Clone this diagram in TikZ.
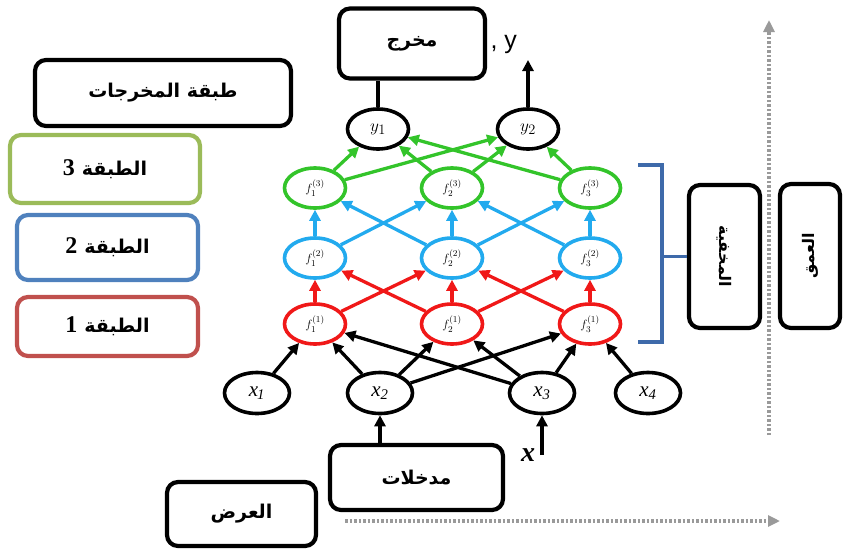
\documentclass[tikz,border=0pt]{standalone}
\usepackage{fontspec}
\setmainfont{Liberation Serif}
\newfontfamily\arabicfont[Script=Arabic]{DejaVu Sans}
\newfontfamily\latsans{Liberation Sans}
\TeXXeTstate=1
\usetikzlibrary{arrows.meta,shapes.geometric}
\definecolor{nred}{HTML}{F01818}
\definecolor{nblue}{HTML}{22AAEE}
\definecolor{ngreen}{HTML}{33C42A}
\definecolor{boxgreen}{HTML}{9BBB59}
\definecolor{boxblue}{HTML}{4F81BD}
\definecolor{boxred}{HTML}{C0504D}
\definecolor{brk}{HTML}{3E6AAA}
\definecolor{dotgray}{HTML}{9A9A9A}
\newcommand{\ar}[1]{{\arabicfont\bfseries\beginR #1\endR}}
\newcommand{\arsz}{\fontsize{19}{22}\selectfont}
\newcommand{\numsz}{\fontsize{24}{26}\selectfont\bfseries}
\begin{document}
\begin{tikzpicture}[x=1pt,y=-1pt,
  neuron/.style={ellipse, draw, line width=3.6pt, minimum width=61pt, minimum height=40pt, inner sep=0pt, fill=white},
  xneuron/.style={neuron, minimum width=65pt, minimum height=41pt},
  rbox/.style={draw, rounded corners=11pt, line width=4.2pt, inner sep=0pt, align=center, fill=white},
  conn/.style={line width=3.3pt, -{Triangle[length=11pt,width=11pt]}},
  dotaxis/.style={dotgray, line width=4pt, dash pattern=on 2.5pt off 2pt, -{Triangle[length=12pt,width=11pt]}}
]
\useasboundingbox (0,0) rectangle (843,549);

% boxes
\node[rbox, minimum width=146pt, minimum height=70pt] (out) at (412,43.5) {\arsz\ar{مخرج}};
\node[rbox, minimum width=256pt, minimum height=66pt] (outlayer) at (163,93) {\arsz\ar{طبقة المخرجات}};
\node[rbox, draw=boxgreen, minimum width=190pt, minimum height=68pt] (L3) at (105,169) {{\numsz 3}\hspace{7pt}{\arsz\ar{الطبقة}}};
\node[rbox, draw=boxblue, minimum width=181pt, minimum height=65pt] (L2) at (107.5,247.5) {{\numsz 2}\hspace{7pt}{\arsz\ar{الطبقة}}};
\node[rbox, draw=boxred, minimum width=181pt, minimum height=59pt] (L1) at (107.5,326.5) {{\numsz 1}\hspace{7pt}{\arsz\ar{الطبقة}}};
\node[rbox, minimum width=173pt, minimum height=65pt] (in) at (416.5,477.5) {\arsz\ar{مدخلات}};
\node[rbox, minimum width=149pt, minimum height=64pt] (wid) at (241.5,514) {\arsz\ar{العرض}};
\node[rbox, minimum width=71pt, minimum height=143pt] (hid) at (724.5,256.5) {};
\node[rotate=-90, font=\fontsize{16}{18}\selectfont] (hidt) at (hid.center) {\ar{المخفية}};
\node[rbox, minimum width=60pt, minimum height=144pt] (dep) at (810,256) {};
\node[rotate=90, font=\fontsize{16}{18}\selectfont] (dept) at (dep.center) {\ar{العمق}};

% labels
\node[font=\latsans\fontsize{25}{27}\selectfont, anchor=west] (ylab) at (487,44) {, y};
\node[font=\fontsize{28}{30}\selectfont\bfseries\itshape] (xlab) at (528,455) {x};

% axes
\coordinate (hs) at (345,521);
\coordinate (he) at (780,521);
\coordinate (vs) at (769,435);
\coordinate (ve) at (769,20);
\draw[dotaxis] (hs) -- (he);
\draw[dotaxis] (vs) -- (ve);

% neurons
\node[neuron] (y1) at (378,129) {\fontsize{19}{20}\selectfont$y_1$};
\node[neuron] (y2) at (528,129) {\fontsize{19}{20}\selectfont$y_2$};
\foreach \i/\xx in {1/315,2/452,3/590}{
  \node[neuron, draw=ngreen] (c\i) at (\xx,188) {\fontsize{12.5}{13}\selectfont$f_{\i}^{(3)}$};
  \node[neuron, draw=nblue] (b\i) at (\xx,258) {\fontsize{12.5}{13}\selectfont$f_{\i}^{(2)}$};
  \node[neuron, draw=nred] (a\i) at (\xx,324) {\fontsize{12.5}{13}\selectfont$f_{\i}^{(1)}$};
}
\node[xneuron] (x1) at (257,393) {\fontsize{21}{22}\selectfont\itshape x\textsubscript{\kern-1pt 1}};
\node[xneuron] (x2) at (380,393) {\fontsize{21}{22}\selectfont\itshape x\textsubscript{2}};
\node[xneuron] (x3) at (542,393) {\fontsize{21}{22}\selectfont\itshape x\textsubscript{3}};
\node[xneuron] (x4) at (648,393) {\fontsize{21}{22}\selectfont\itshape x\textsubscript{4}};

% input -> f1
\draw[conn] (x1) -- (a1);
\draw[conn] (x2) -- (a1);
\draw[conn] (x2) -- (a2);
\draw[conn] (x2) -- (a3);
\draw[conn] (x3) -- (a1);
\draw[conn] (x3) -- (a2);
\draw[conn] (x3) -- (a3);
\draw[conn] (x4) -- (a3);

% f1 -> f2
\foreach \i in {1,2,3}{\draw[conn, nred] (a\i) -- (b\i);}
\draw[conn, nred] (a1) -- (b2);
\draw[conn, nred] (a2) -- (b1);
\draw[conn, nred] (a2) -- (b3);
\draw[conn, nred] (a3) -- (b2);

% f2 -> f3
\foreach \i in {1,2,3}{\draw[conn, nblue] (b\i) -- (c\i);}
\draw[conn, nblue] (b1) -- (c2);
\draw[conn, nblue] (b2) -- (c1);
\draw[conn, nblue] (b2) -- (c3);
\draw[conn, nblue] (b3) -- (c2);

% f3 -> y
\foreach \i in {1,2,3}{
  \draw[conn, ngreen] (c\i) -- (y1);
  \draw[conn, ngreen] (c\i) -- (y2);
}

% output links
\draw[line width=3.6pt] (y1.north) -- (y1.north |- out.south);
\coordinate (ytip) at (528,60);
\draw[conn] (y2.north) -- (ytip);

% input links
\draw[conn] (x2.south |- in.north) -- (x2.south);
\coordinate (x3foot) at (542,455);
\draw[conn] (x3foot) -- (x3.south);

% bracket
\coordinate (bt) at (638,165);
\coordinate (bb) at (638,342);
\draw[brk, line width=3.2pt] (bt) -- (662,165) -- (662,342) -- (bb);
\draw[brk, line width=3.2pt] (662,256.5) -- (hid.west);
\end{tikzpicture}
\end{document}
